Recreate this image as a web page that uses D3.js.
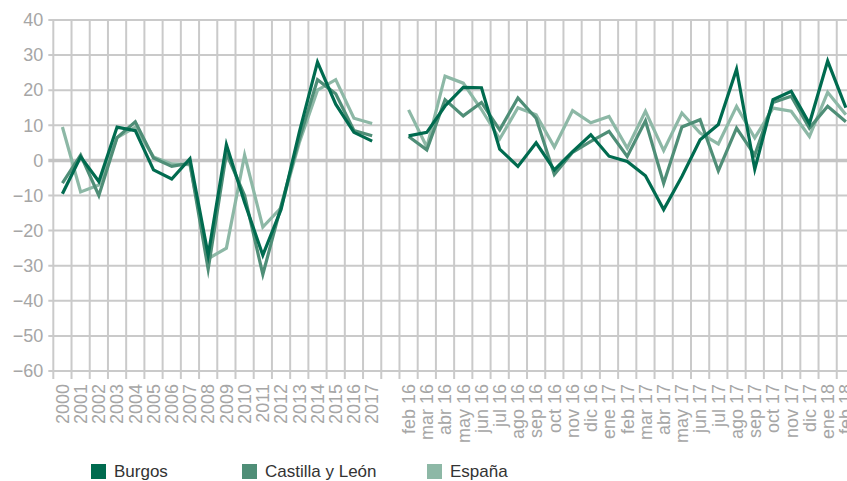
<!DOCTYPE html>
<html><head><meta charset="utf-8">
<script src="https://cdn.jsdelivr.net/npm/d3@7"></script>
<style>body{margin:0;background:#fff;overflow:hidden}svg{display:block}text{font-family:"Liberation Sans",Arial,sans-serif}</style>
</head><body>
<svg id="c" width="847" height="481"></svg>
<script>
const years = ["2000","2001","2002","2003","2004","2005","2006","2007","2008","2009","2010","2011","2012","2013","2014","2015","2016","2017"];
const months = ["feb 16","mar 16","abr 16","may 16","jun 16","jul 16","ago 16","sep 16","oct 16","nov 16","dic 16","ene 17","feb 17","mar 17","abr 17","may 17","jun 17","jul 17","ago 17","sep 17","oct 17","nov 17","dic 17","ene 18","feb 18"];
const gapKey = "";
const yTicks = [40,30,20,10,0,-10,-20,-30,-40,-50,-60];

const burgosYear = [-9.5,1,-6,9.5,8.5,-2.7,-5.3,0.5,-27,4.5,-12,-27,-14,8,28,16,8,5.5];
const burgosMonth = [7,8,15.5,20.8,20.7,3.2,-1.7,5,-2.7,2.5,7.3,1.2,-0.3,-4.4,-14,-4.6,5.9,10.2,26,-2.5,17.3,19.7,10.5,28.3,15];
const cylYear = [-6.5,1.5,-10,6.5,11,0.7,-1.7,-0.8,-31,2,-10,-32.5,-13,6,23,19,8.5,7];
const cylMonth = [6.8,3,17.3,12.7,16.5,8.7,17.8,12,-4,2.3,5.4,8.3,1.1,11.3,-6.5,9.5,11.6,-3,9.2,1.5,16.5,18.3,9.2,15.4,11];
const espYear = [9.5,-9,-7,6.5,9.5,1,-1,-1.2,-28,-25,1.5,-19,-13.5,5,20,23,12,10.5];
const espMonth = [14.4,3.8,24,22,14.5,6.1,15,13,3.8,14.2,10.7,12.5,3.5,14,2.8,13.5,7.8,4.7,15.4,6.4,14.9,14,6.8,19.4,13];

const seriesNames = ["Burgos","Castilla y León","España"];
const seriesColors = ["#006b4f","#4f8e77","#8db8a6"];

const cats = years.concat([gapKey], months);
const svg = d3.select("#c");
const mLeft = 53.3, mTop = 20, mBottom = 371;
const x = d3.scaleBand().domain(cats).range([mLeft, mLeft + 44*18.22]).padding(0);
const y = d3.scaleLinear().domain([-60,40]).range([mBottom, mTop]);

const grid = svg.append("g");
const bounds = cats.map(c => x(c)).concat([x(cats[cats.length-1]) + x.bandwidth()]);
grid.selectAll("line.v").data(bounds).enter().append("line")
  .attr("x1", d => d).attr("x2", d => d).attr("y1", mTop).attr("y2", mBottom + 8)
  .attr("stroke", "#cacaca").attr("stroke-width", 2);
grid.selectAll("line.h").data(yTicks).enter().append("line")
  .attr("x1", mLeft - 5).attr("x2", bounds[bounds.length-1])
  .attr("y1", d => y(d)).attr("y2", d => y(d))
  .attr("stroke", d => d === 0 ? "#c4c4c4" : "#cacaca")
  .attr("stroke-width", d => d === 0 ? 3.5 : 2);

const yAxis = d3.axisLeft(y).tickValues(yTicks).tickSize(0).tickPadding(10);
const ya = svg.append("g").attr("transform", `translate(${mLeft},0)`).call(yAxis);
ya.select(".domain").remove();
ya.selectAll("text").attr("fill", "#a6a6a6").style("font-size", "18px");

const xAxis = d3.axisBottom(x).tickSize(0).tickPadding(0);
const xa = svg.append("g").attr("transform", `translate(0,${mBottom})`).call(xAxis);
xa.select(".domain").remove();
xa.selectAll("text")
  .attr("fill", "#a6a6a6").style("font-size", "18px")
  .attr("text-anchor", "end")
  .attr("transform", "rotate(-90)")
  .attr("x", -13).attr("y", 0).attr("dy", "0.35em");

const allData = [
  burgosYear.concat([null], burgosMonth),
  cylYear.concat([null], cylMonth),
  espYear.concat([null], espMonth)
];
const line = d3.line()
  .defined(d => d.v !== null)
  .x(d => x(d.c) + x.bandwidth()/2)
  .y(d => y(d.v));
[2,1,0].forEach(i => {
  const pts = cats.map((c, j) => ({c: c, v: allData[i][j]}));
  svg.append("path").datum(pts)
    .attr("d", line)
    .attr("fill", "none")
    .attr("stroke", seriesColors[i])
    .attr("stroke-width", 3.2)
    .attr("stroke-linejoin", "miter")
    .attr("stroke-miterlimit", 10);
});

const legX = [91, 242, 427];
const lg = svg.append("g");
seriesNames.forEach((n, i) => {
  lg.append("rect").attr("x", legX[i]).attr("y", 464).attr("width", 15).attr("height", 15).attr("fill", seriesColors[i]);
  lg.append("text").attr("x", legX[i] + 23).attr("y", 477).text(n)
    .attr("fill", "#333").style("font-size", "17px");
});
</script>
</body></html>
